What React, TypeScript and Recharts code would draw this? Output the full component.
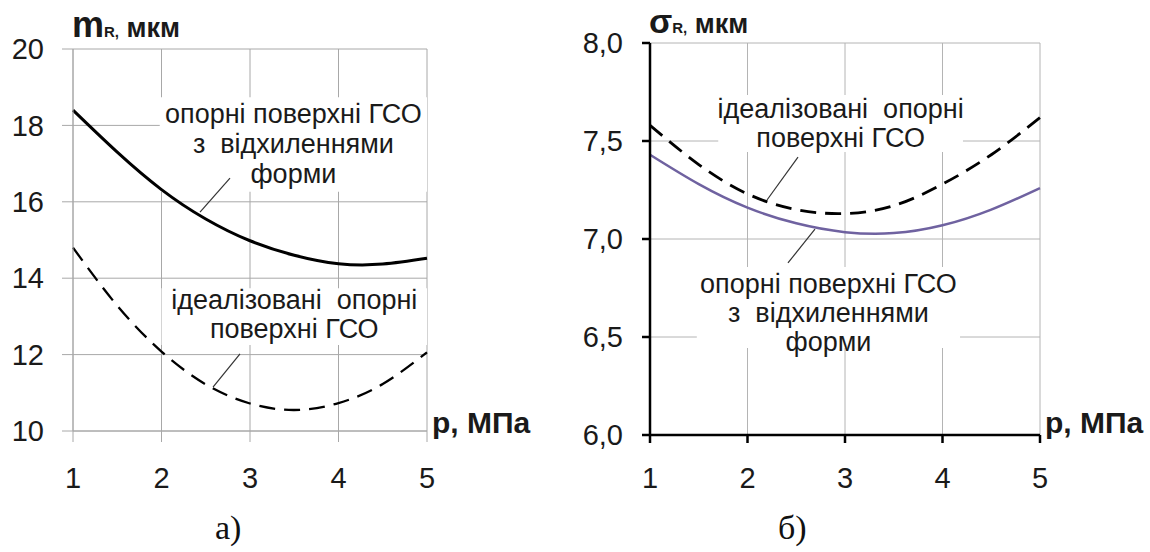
import React from "react";
import {
  LineChart,
  Line,
  XAxis,
  YAxis,
  CartesianGrid,
  ReferenceArea,
  ReferenceLine,
  Label,
} from "recharts";

// Contact pressure, MPa
const pressure = [1, 1.5, 2, 2.5, 3, 3.5, 4, 4.5, 5];

// a) mean roughness m_R, µm
const mrDeviated = [18.4, 17.3, 16.32, 15.55, 14.98, 14.6, 14.38, 14.37, 14.52];
const mrIdeal = [14.8, 13.28, 12.08, 11.22, 10.72, 10.55, 10.73, 11.23, 12.06];

// b) roughness spread σ_R, µm
const sigmaIdeal = [7.58, 7.38, 7.23, 7.15, 7.13, 7.17, 7.28, 7.43, 7.62];
const sigmaDeviated = [7.43, 7.28, 7.16, 7.08, 7.035, 7.03, 7.07, 7.15, 7.26];

const pTicks = [1, 2, 3, 4, 5];
const mrTicks = [10, 12, 14, 16, 18, 20];
const sigmaTicks = [6.0, 6.5, 7.0, 7.5, 8.0];

const mrData = pressure.map((p, i) => ({ p, dev: mrDeviated[i], ideal: mrIdeal[i] }));
const sigmaData = pressure.map((p, i) => ({ p, dev: sigmaDeviated[i], ideal: sigmaIdeal[i] }));

const SANS = "'Liberation Sans', Arial, sans-serif";
const TEXT = "#1a1a1a";
const TICK_FONT = 29;
const NOTE_FONT = 27;

const commaFmt = (v: number) => v.toFixed(1).replace(".", ",");

// Multi-line centred note drawn over a white box
const noteContent =
  (lines: string[], first: number, step: number) =>
  (props: any) => {
    const vb = props.viewBox || {};
    const cx = vb.x + vb.width / 2;
    return (
      <text
        x={cx}
        y={vb.y + first}
        textAnchor="middle"
        fontFamily={SANS}
        fontSize={NOTE_FONT}
        fill={TEXT}
        style={{ whiteSpace: "pre" }}
      >
        {lines.map((l, i) => (
          <tspan key={i} x={cx} y={vb.y + first + i * step}>
            {l}
          </tspan>
        ))}
      </text>
    );
  };

const xTitle = (dy: number) => (props: any) => {
  const vb = props.viewBox || {};
  return (
    <text
      x={vb.x + vb.width + 5}
      y={vb.y + dy}
      fontFamily={SANS}
      fontWeight="bold"
      fontSize={30}
      fill={TEXT}
    >
      p, МПа
    </text>
  );
};

const yTitle = (symbol: string, symSize: number, dy: number) => (props: any) => {
  const vb = props.viewBox || {};
  return (
    <text
      x={vb.x + vb.width - 1}
      y={vb.y - dy}
      fontFamily={SANS}
      fontWeight="bold"
      fill={TEXT}
    >
      <tspan fontSize={symSize}>{symbol}</tspan>
      <tspan fontSize={15}>R,</tspan>
      <tspan fontSize={27}>{"  мкм"}</tspan>
    </text>
  );
};

function MeanChart() {
  return (
    <LineChart
      width={560}
      height={552}
      data={mrData}
      margin={{ top: 49, right: 133, left: 13, bottom: 61 }}
    >
      <CartesianGrid stroke="#a8a8a8" strokeWidth={1} />
      <XAxis
        dataKey="p"
        type="number"
        domain={[1, 5]}
        ticks={pTicks}
        height={60}
        axisLine={{ stroke: "#a8a8a8" }}
        tickLine={{ stroke: "#a8a8a8" }}
        tickSize={11}
        tickMargin={25}
        tick={{ fontFamily: SANS, fontSize: TICK_FONT, fill: TEXT }}
      >
        <Label content={xTitle(2)} />
      </XAxis>
      <YAxis
        type="number"
        domain={[10, 20]}
        ticks={mrTicks}
        width={60}
        axisLine={{ stroke: "#a8a8a8" }}
        tickLine={{ stroke: "#a8a8a8" }}
        tickSize={11}
        tickMargin={18}
        tick={{ fontFamily: SANS, fontSize: TICK_FONT, fill: TEXT }}
      >
        <Label content={yTitle("m", 36, 12)} />
      </YAxis>

      <ReferenceArea x1={1.98} x2={5} y1={16.26} y2={18.74} fill="#fff" fillOpacity={1} stroke="none">
        <Label content={noteContent(["опорні поверхні ГСО", "з  відхиленнями", "форми"], 26, 30)} />
      </ReferenceArea>
      <ReferenceArea x1={2.0} x2={5} y1={12.25} y2={13.74} fill="#fff" fillOpacity={1} stroke="none">
        <Label content={noteContent(["ідеалізовані  опорні", "поверхні ГСО"], 21, 29)} />
      </ReferenceArea>

      <ReferenceLine
        segment={[{ x: 2.774, y: 16.62 }, { x: 2.435, y: 15.73 }]}
        stroke="#333"
        strokeWidth={1.2}
      />
      <ReferenceLine
        segment={[{ x: 2.887, y: 12.02 }, { x: 2.582, y: 11.15 }]}
        stroke="#333"
        strokeWidth={1.2}
      />

      <Line
        type="natural"
        dataKey="dev"
        stroke="#000"
        strokeWidth={3}
        dot={false}
        isAnimationActive={false}
      />
      <Line
        type="natural"
        dataKey="ideal"
        stroke="#000"
        strokeWidth={2.3}
        strokeDasharray="16 9"
        dot={false}
        isAnimationActive={false}
      />
    </LineChart>
  );
}

function SpreadChart() {
  return (
    <LineChart
      width={590}
      height={552}
      data={sigmaData}
      margin={{ top: 43, right: 110, left: 20, bottom: 57 }}
    >
      <CartesianGrid stroke="#b4b4b4" strokeWidth={1} />
      <XAxis
        dataKey="p"
        type="number"
        domain={[1, 5]}
        ticks={pTicks}
        height={60}
        axisLine={{ stroke: "#000", strokeWidth: 2.5 }}
        tickLine={{ stroke: "#000", strokeWidth: 2.5 }}
        tickSize={8}
        tickMargin={24}
        tick={{ fontFamily: SANS, fontSize: TICK_FONT, fill: TEXT }}
      >
        <Label content={xTitle(-2)} />
      </XAxis>
      <YAxis
        type="number"
        domain={[6, 8]}
        ticks={sigmaTicks}
        tickFormatter={commaFmt}
        width={70}
        axisLine={{ stroke: "#000", strokeWidth: 2.5 }}
        tickLine={{ stroke: "#000", strokeWidth: 2.5 }}
        tickSize={8}
        tickMargin={19}
        tick={{ fontFamily: SANS, fontSize: TICK_FONT, fill: TEXT }}
      >
        <Label content={yTitle("σ", 34, 10)} />
      </YAxis>

      <ReferenceArea x1={1.7} x2={4.21} y1={7.444} y2={7.735} fill="#fff" fillOpacity={1} stroke="none">
        <Label content={noteContent(["ідеалізовані  опорні", "поверхні ГСО"], 23, 29)} />
      </ReferenceArea>
      <ReferenceArea x1={1.48} x2={4.18} y1={6.444} y2={6.857} fill="#fff" fillOpacity={1} stroke="none">
        <Label content={noteContent(["опорні поверхні ГСО", "з  відхиленнями", "форми"], 26, 29)} />
      </ReferenceArea>

      <ReferenceLine
        segment={[{ x: 2.518, y: 7.418 }, { x: 2.2, y: 7.199 }]}
        stroke="#333"
        strokeWidth={1.2}
      />
      <ReferenceLine
        segment={[{ x: 2.692, y: 7.05 }, { x: 2.415, y: 6.878 }]}
        stroke="#333"
        strokeWidth={1.2}
      />

      <Line
        type="natural"
        dataKey="ideal"
        stroke="#000"
        strokeWidth={2.8}
        strokeDasharray="16 9"
        dot={false}
        isAnimationActive={false}
      />
      <Line
        type="natural"
        dataKey="dev"
        stroke="#6f62a0"
        strokeWidth={2.5}
        dot={false}
        isAnimationActive={false}
      />
    </LineChart>
  );
}

const captionStyle: React.CSSProperties = {
  position: "absolute",
  top: 508,
  fontFamily: "'Liberation Serif', 'Times New Roman', serif",
  fontSize: 34,
  color: "#111",
  lineHeight: "40px",
};

export default function App() {
  return (
    <div
      style={{
        position: "absolute",
        left: 0,
        top: 0,
        width: 1150,
        height: 552,
        background: "#fff",
        overflow: "hidden",
      }}
    >
      <div style={{ position: "absolute", left: 0, top: 0 }}>
        <MeanChart />
      </div>
      <div style={{ position: "absolute", left: 560, top: 0 }}>
        <SpreadChart />
      </div>
      <div style={{ ...captionStyle, left: 215 }}>а)</div>
      <div style={{ ...captionStyle, left: 778 }}>б)</div>
    </div>
  );
}
